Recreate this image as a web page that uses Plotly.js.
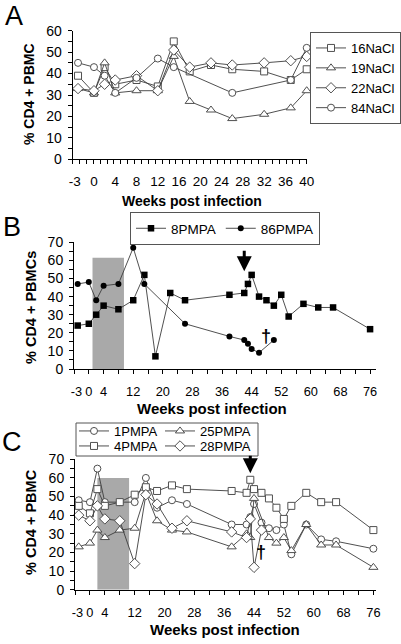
<!DOCTYPE html>
<html><head><meta charset="utf-8">
<script src="https://cdn.plot.ly/plotly-3.0.1.min.js"></script>
<style>html,body{margin:0;padding:0;background:#fff}#chart{width:401px;height:644px}</style>
</head><body><div id="chart"></div>
<script>
// ---------- Panel A data ----------
const weeksA   = [-3, 0, 2, 4, 8, 12, 15, 18, 22, 26, 32, 37, 40];
const nacl16   = [39, 31, 43, 35, 37, 34, 55, 41, 44, 42, 41, 37, 42];
const nacl19   = [33, 31, 45, 31, 32, 32, 48, 27, 23, 19, 21, 24, 32];
const nacl22   = [33, 32, 35, 37, 39, 32, 51, 43, 45, 44, 45, 46, 48];
const weeksA84 = [-3, 0, 2, 4, 8, 12, 15, 26, 37, 40];
const nacl84   = [45, 43, 39, 31, 38, 47, 43, 31, 37, 52];
const ticksA   = [-3, 0, 4, 8, 12, 16, 20, 24, 28, 32, 36, 40];

// ---------- Panel B data ----------
const weeksB8  = [-3, 0, 2, 4, 8, 12, 15, 18, 22, 26, 38, 42, 43, 44, 46, 48, 50, 52, 54, 58, 62, 66, 76];
const pmpa8    = [24, 25, 30, 35, 33, 38, 52, 7, 42, 38, 41, 42, 47, 52, 40, 38, 35, 41, 29, 36, 34, 34, 22];
const weeksB86 = [-3, 0, 2, 4, 8, 12, 15, 26, 38, 42, 43, 44, 46, 50];
const pmpa86   = [47, 48, 38, 46, 47, 67, 47, 25, 18, 16, 14, 11, 9, 16];
const treatB   = [1, 9.5];

// ---------- Panel C data ----------
const weeksC1  = [-3, 0, 2, 4, 8, 12, 15, 18, 22, 26, 38, 42, 43, 44, 46, 48, 50, 52, 54, 58, 62, 66, 76];
const pmpa1    = [48, 47, 65, 47, 47, 47, 60, 44, 48, 46, 35, 35, 39, 46, 36, 33, 32, 35, 19, 35, 27, 26, 22];
const weeksC4  = [-3, 0, 2, 4, 8, 12, 15, 18, 22, 26, 38, 42, 43, 44, 46, 48, 50, 52, 54, 58, 62, 66, 76];
const pmpa4    = [45, 41, 54, 45, 47, 51, 55, 53, 56, 54, 53, 52, 59, 54, 52, 49, 44, 38, 45, 52, 47, 47, 32];
const weeksC25 = [-3, 0, 2, 4, 8, 12, 15, 18, 22, 26, 38, 42, 43, 44, 48, 50, 52, 54, 58, 62, 66, 76];
const pmpa25   = [23, 25, 32, 28, 32, 33, 52, 37, 32, 31, 23, 30, 28, 49, 28, 25, 28, 21, 35, 24, 24, 12];
const weeksC28 = [-3, 0, 2, 4, 8, 12, 15, 18, 22, 26, 38, 42, 43, 44, 46];
const pmpa28   = [40, 37, 45, 38, 37, 14, 51, 46, 33, 37, 31, 28, 38, 12, 32];
const treatC   = [2, 10.5];
const ticksBC  = [-3, 0, 4, 12, 20, 28, 36, 44, 52, 60, 68, 76];

// ---------- helpers ----------
const W = 401, H = 644;
const px = x => x / W;
const py = y => 1 - y / H;
const FONT = 'Liberation Sans, Arial, sans-serif';
const LINE = '#3c3c3c';

function openTrace(name, x, y, symbol, size, xa, ya, legend) {
  return {type: 'scatter', mode: 'lines+markers', name, x, y, xaxis: xa, yaxis: ya, legend,
    cliponaxis: false,
    line: {color: LINE, width: 0.9},
    marker: {symbol, size, color: '#fff', line: {color: '#505050', width: 1}}};
}
function solidTrace(name, x, y, symbol, size, xa, ya, legend) {
  return {type: 'scatter', mode: 'lines+markers', name, x, y, xaxis: xa, yaxis: ya, legend,
    cliponaxis: false,
    line: {color: LINE, width: 0.9},
    marker: {symbol, size, color: '#000'}};
}

const traces = [
  openTrace('16NaCl', weeksA, nacl16, 'square', 7, 'x', 'y', 'legend'),
  openTrace('19NaCl', weeksA, nacl19, 'triangle-up', 8, 'x', 'y', 'legend'),
  openTrace('22NaCl', weeksA, nacl22, 'diamond', 8, 'x', 'y', 'legend'),
  openTrace('84NaCl', weeksA84, nacl84, 'circle', 7, 'x', 'y', 'legend'),
  solidTrace('8PMPA', weeksB8, pmpa8, 'square', 6.5, 'x2', 'y2', 'legend2'),
  solidTrace('86PMPA', weeksB86, pmpa86, 'circle', 6, 'x2', 'y2', 'legend2'),
  openTrace('1PMPA', weeksC1, pmpa1, 'circle', 7, 'x3', 'y3', 'legend3'),
  openTrace('25PMPA', weeksC25, pmpa25, 'triangle-up', 8, 'x3', 'y3', 'legend4'),
  openTrace('4PMPA', weeksC4, pmpa4, 'square', 7, 'x3', 'y3', 'legend5'),
  openTrace('28PMPA', weeksC28, pmpa28, 'diamond', 8, 'x3', 'y3', 'legend6')
];

// the first label gets a trailing space so it sits just left of its tick, as in the original
function labelsPad(vals, pad) { return vals.map((v, i) => i === 0 ? String(v) + pad : String(v)); }

function xAxis(domain, range, tickvals, ticktext, minorDtick, anchor, standoff, fsize) {
  return {domain, range, anchor, tickmode: 'array', tickvals, ticktext,
    showgrid: false, zeroline: false, showline: true, linecolor: '#000', linewidth: 1,
    ticks: '', tickangle: 0, ticklabelstandoff: standoff,
    tickfont: {family: FONT, size: fsize, color: '#000'},
    minor: {ticks: 'outside', ticklen: 4, tickcolor: '#000', tickwidth: 1, tick0: -4, dtick: minorDtick, showgrid: false},
    fixedrange: true};
}
function yAxis(domain, top, anchor) {
  return {domain, range: [0, top], anchor, tickmode: 'linear', tick0: 0, dtick: 10,
    showgrid: false, zeroline: false, showline: true, linecolor: '#000', linewidth: 1,
    ticks: 'outside', ticklen: 4, tickcolor: '#000', ticklabelstandoff: 3,
    tickfont: {family: FONT, size: 14, color: '#000'},
    minor: {ticks: 'outside', ticklen: 4, tickcolor: '#000', dtick: 5, showgrid: false},
    fixedrange: true};
}

const legBase = {font: {family: FONT, size: 13.5, color: '#000'}, itemwidth: 30,
  xanchor: 'left', yanchor: 'top', itemclick: false, itemdoubleclick: false};
const legC = Object.assign({}, legBase, {font: {family: FONT, size: 13, color: '#000'}, borderwidth: 0, bgcolor: 'rgba(0,0,0,0)'});

function ann(text, x, y, size, opts) {
  return Object.assign({text, x: px(x), y: py(y), xref: 'paper', yref: 'paper', showarrow: false,
    xanchor: 'center', yanchor: 'middle', font: {family: FONT, size, color: '#000'}}, opts || {});
}
const bold = size => ({family: FONT, size, color: '#000', weight: 700});

const layout = {
  width: W, height: H, margin: {l: 0, r: 0, t: 0, b: 0},
  paper_bgcolor: '#fff', plot_bgcolor: 'rgba(0,0,0,0)',
  xaxis:  xAxis([px(72.7), px(306.7)], [-4, 40], ticksA, labelsPad(ticksA, '\u2002'), 44 / 34, 'y', 9, 13.5),
  yaxis:  yAxis([py(159.3), py(30.7)], 60, 'x'),
  xaxis2: xAxis([px(74), px(376)], [-4, 77.6], ticksBC, labelsPad(ticksBC, '\u2009'), 4, 'y2', 11, 12.8),
  yaxis2: yAxis([py(369), py(242.3)], 70, 'x2'),
  xaxis3: xAxis([px(75), px(376)], [-4, 76.7], ticksBC, labelsPad(ticksBC, '\u2009'), 4, 'y3', 11, 12.8),
  yaxis3: yAxis([py(589.7), py(459.3)], 70, 'x3'),
  legend:  Object.assign({}, legBase, {x: px(310), y: py(32), font: {family: FONT, size: 13, color: '#000'},
                                       bordercolor: '#555', borderwidth: 1, bgcolor: '#fff', tracegroupgap: 0}),
  legend2: Object.assign({}, legBase, {x: px(130), y: py(212), orientation: 'h', bordercolor: '#555', borderwidth: 1, bgcolor: '#fff'}),
  legend3: Object.assign({}, legC, {x: px(74), y: py(416)}),
  legend4: Object.assign({}, legC, {x: px(160), y: py(416)}),
  legend5: Object.assign({}, legC, {x: px(74), y: py(431)}),
  legend6: Object.assign({}, legC, {x: px(160), y: py(431)}),
  shapes: [
    {type: 'rect', xref: 'x2', yref: 'y2', x0: treatB[0], x1: treatB[1], y0: 0, y1: 61.5,
     fillcolor: '#a9a9a9', line: {width: 0}, layer: 'below'},
    {type: 'rect', xref: 'x3', yref: 'y3', x0: treatC[0], x1: treatC[1], y0: 0, y1: 60,
     fillcolor: '#a9a9a9', line: {width: 0}, layer: 'below'},
    {type: 'rect', xref: 'paper', yref: 'paper', x0: px(76), x1: px(258), y0: py(456), y1: py(423),
     line: {color: '#555', width: 1}, fillcolor: 'rgba(0,0,0,0)'}
  ],
  annotations: [
    ann('A', 14, 16, 27),
    ann('B', 12, 227, 27),
    ann('C', 12, 442, 27),
    ann('Weeks post infection', 192, 201, 14, {font: bold(14)}),
    ann('Weeks post infection', 212, 408, 15, {font: bold(15)}),
    ann('Weeks post infection', 225, 629, 15, {font: bold(15)}),
    ann('% CD4 + PBMC', 29, 94, 14, {textangle: -90, font: bold(14)}),
    ann('% CD4 + PBMCs', 31, 308, 14.5, {textangle: -90, font: bold(14.5)}),
    ann('% CD4 + PBMC', 31, 522, 14.5, {textangle: -90, font: bold(14.5)}),
    {x: 42, y: 54, xref: 'x2', yref: 'y2', ax: 0, ay: -22, text: '', showarrow: true,
     arrowhead: 2, arrowsize: 1, arrowwidth: 3, arrowcolor: '#000'},
    {x: 43, y: 62.5, xref: 'x3', yref: 'y3', ax: 0, ay: -19, text: '', showarrow: true,
     arrowhead: 2, arrowsize: 1, arrowwidth: 3, arrowcolor: '#000'},
    {x: 48, y: 18, xref: 'x2', yref: 'y2', text: '†', showarrow: false, font: bold(18)},
    {x: 46, y: 20, xref: 'x3', yref: 'y3', text: '†', showarrow: false, font: bold(18)}
  ]
};

Plotly.newPlot('chart', traces, layout, {displayModeBar: false, staticPlot: true});
</script>
</body></html>
